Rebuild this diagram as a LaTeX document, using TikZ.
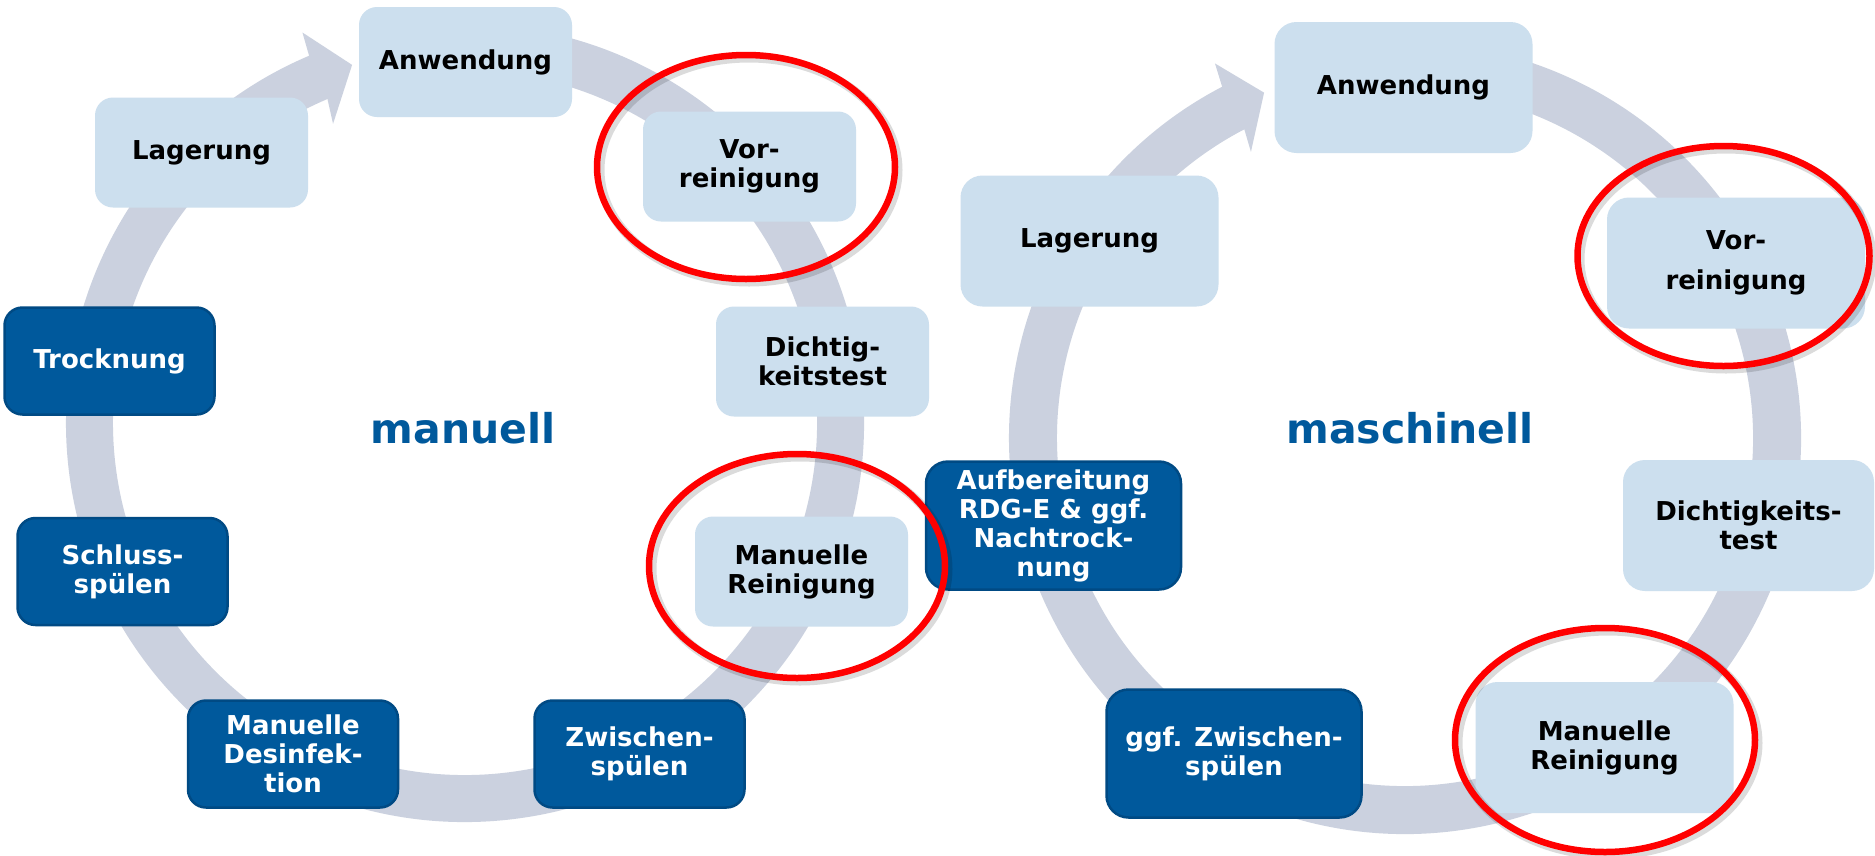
\documentclass[tikz,border=0pt]{standalone}
\usepackage{fontspec}
\setmainfont{DejaVu Sans}
\definecolor{track}{RGB}{203,209,223}
\definecolor{lightfill}{RGB}{204,223,238}
\definecolor{darkfill}{RGB}{0,89,156}
\definecolor{darkline}{RGB}{0,74,132}
\definecolor{titleblue}{RGB}{0,89,156}
\definecolor{ringred}{RGB}{255,0,0}
\begin{document}
\begin{tikzpicture}[x=1pt,y=1pt,
  boxtext/.style={font=\fontsize{26}{29}\selectfont\bfseries, align=center, inner sep=0pt},
  lbox/.style={boxtext, rectangle, rounded corners=18pt, fill=lightfill, text=black, minimum width=213pt, minimum height=110pt},
  dbox/.style={boxtext, rectangle, rounded corners=18pt, fill=darkfill, draw=darkline, line width=2.5pt, text=white, minimum width=210pt, minimum height=107pt},
  big/.style={minimum width=258pt, minimum height=131pt, rounded corners=22pt},
  bigd/.style={minimum width=255pt, minimum height=128pt, rounded corners=22pt},
  title/.style={font=\fontsize{41}{49}\selectfont\bfseries, text=titleblue, inner sep=0pt},
  hilite/.style={draw=ringred, line width=6.5pt},
  hiliteshadow/.style={draw=black, draw opacity=0.14, line width=9pt},
  ringline/.style={draw=track, line width=47pt}
]
\fill[white] (0,0) rectangle (1875,-855);
\useasboundingbox (0,0) rectangle (1875,-855);

% left cycle track
\begin{scope}[shift={(465,-423)}]
  \draw[ringline] (100:375.5) arc[start angle=100, end angle=-247.5, radius=375.5];
  \fill[track] (113:399) -- (112.6:423) -- (107.5:375.5) -- (113.8:327) -- (113:352) -- cycle;
\end{scope}
% right cycle track
\begin{scope}[shift={(1405,-438)}]
  \draw[ringline, line width=48pt] (105:372) arc[start angle=105, end angle=-243, radius=372];
  \fill[track] (117.5:396) -- (116.9:420) -- (112.2:373) -- (118.3:325) -- (117.5:348) -- cycle;
\end{scope}

% titles
\node[title, anchor=base] (t1) at (463,-443) {manuell};
\node[title, anchor=base] (t2) at (1410,-443) {maschinell};

% left boxes
\node[lbox] (lanw) at (465.5,-62) {Anwendung};
\node[lbox] (llag) at (201.5,-152.5) {Lagerung};
\node[lbox] (lvor) at (749.5,-166.5) {Vor-\\reinigung};
\node[dbox] (ltro) at (109.5,-361) {Trocknung};
\node[lbox] (ldic) at (822.5,-361.5) {Dichtig-\\keitstest};
\node[dbox] (lsch) at (122.5,-571.5) {Schluss-\\spülen};
\node[lbox] (lman) at (801.5,-571.5) {Manuelle\\Reinigung};
\node[dbox] (ldes) at (293,-754) {Manuelle\\Desinfek-\\tion};
\node[dbox] (lzwi) at (639.5,-754) {Zwischen-\\spülen};

% right boxes
\node[lbox,big] (ranw) at (1403.5,-87.5) {Anwendung};
\node[lbox,big] (rlag) at (1089.5,-241) {Lagerung};
\node[lbox,big] (rvor) at (1736,-263) {Vor-\\[11pt]reinigung};
\node[dbox,bigd] (rauf) at (1053.5,-525.5) {Aufbereitung\\RDG-E \& ggf.\\Nachtrock-\\nung};
\node[lbox,big,minimum width=251pt] (rdic) at (1748.5,-525.5) {Dichtigkeits-\\test};
\node[dbox,bigd] (rzwi) at (1234,-753.5) {ggf. Zwischen-\\spülen};
\node[lbox,big] (rman) at (1604.5,-747.5) {Manuelle\\Reinigung};

% red highlight ellipses
\draw[hiliteshadow] (749,-170) ellipse[x radius=149, y radius=112];
\draw[hilite] (746,-167) ellipse[x radius=149, y radius=112];
\draw[hiliteshadow] (800,-569) ellipse[x radius=148, y radius=112];
\draw[hilite] (797,-566) ellipse[x radius=148, y radius=112];
\draw[hiliteshadow] (1726,-259) ellipse[x radius=146, y radius=110];
\draw[hilite] (1723.5,-256) ellipse[x radius=146, y radius=110];
\draw[hiliteshadow] (1608,-743) ellipse[x radius=150, y radius=112];
\draw[hilite] (1605,-740) ellipse[x radius=150, y radius=112];
\end{tikzpicture}
\end{document}
